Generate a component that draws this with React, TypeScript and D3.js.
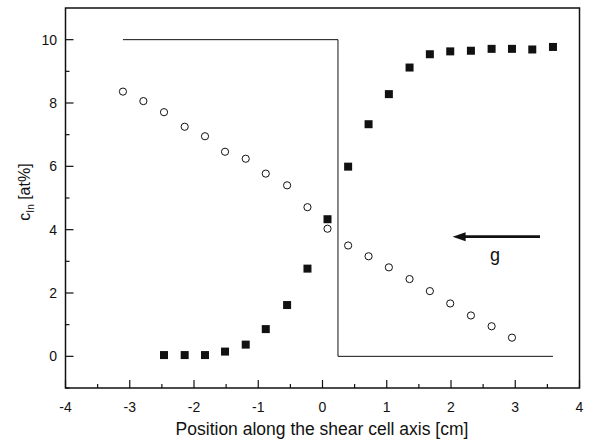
import React from "react";
import * as d3 from "d3";

const gridX = [-3.106, -2.788, -2.467, -2.145, -1.829, -1.517, -1.195, -0.883, -0.551, -0.234, 0.078, 0.399, 0.717, 1.033, 1.355, 1.671, 1.988, 2.31, 2.632, 2.949, 3.265, 3.587];
const circleX = gridX.slice(0, 20);
const circleY = [8.36, 8.06, 7.71, 7.25, 6.95, 6.46, 6.24, 5.77, 5.4, 4.71, 4.03, 3.5, 3.16, 2.81, 2.44, 2.06, 1.67, 1.29, 0.95, 0.59];
const squareX = gridX.slice(2, 22);
const squareY = [0.04, 0.04, 0.04, 0.15, 0.37, 0.86, 1.62, 2.77, 4.33, 5.99, 7.33, 8.28, 9.12, 9.54, 9.63, 9.65, 9.71, 9.71, 9.69, 9.77];
const stepX = [-3.106, 0.241, 0.241, 3.587];
const stepY = [10, 10, 0, 0];
const xTicks = [-4, -3, -2, -1, 0, 1, 2, 3, 4];
const yTicks = [0, 2, 4, 6, 8, 10];
const arrowX = [3.385, 2.025];
const arrowY = 3.78;

const W = 614, H = 441;
const L = 65.5, R = 579.5, T = 8, B = 388;

export default function App() {
  const x = d3.scaleLinear().domain([-4, 4]).range([L, R]);
  const y = d3.scaleLinear().domain([-1, 11]).range([B, T]);
  const xMinor = d3.range(-3.5, 4, 1);
  const yMinor = d3.range(-1, 11, 2);
  const line = d3.line<[number, number]>().x(d => x(d[0])).y(d => y(d[1]));
  const stepPts: [number, number][] = stepX.map((v, i) => [v, stepY[i]]);
  const font = "'Liberation Sans', Arial, sans-serif";
  return (
    <svg width={W} height={H} style={{ position: "absolute", left: 0, top: 0, background: "#fff" }} fontFamily={font}>
      <rect x={0} y={0} width={W} height={H} fill="#fff" />
      <path d={line(stepPts) || ""} fill="none" stroke="#111" strokeWidth={1} />
      {circleX.map((v, i) => (
        <circle key={"c" + i} cx={x(v)} cy={y(circleY[i])} r={3.6} fill="#fff" stroke="#111" strokeWidth={1} />
      ))}
      {squareX.map((v, i) => (
        <rect key={"s" + i} x={x(v) - 4} y={y(squareY[i]) - 4} width={8} height={8} fill="#111" />
      ))}
      <line x1={x(arrowX[0])} y1={y(arrowY)} x2={x(arrowX[1]) + 10} y2={y(arrowY)} stroke="#111" strokeWidth={2.6} />
      <path d={`M${x(arrowX[1])},${y(arrowY)} L${x(arrowX[1]) + 13},${y(arrowY) - 4.5} L${x(arrowX[1]) + 13},${y(arrowY) + 4.5} Z`} fill="#111" />
      <text x={495} y={261} fontSize={18} textAnchor="middle" fill="#111">g</text>
      <rect x={L} y={T} width={R - L} height={B - T} fill="none" stroke="#111" strokeWidth={1.5} />
      {xTicks.map(t => (
        <g key={"xt" + t}>
          <line x1={x(t)} x2={x(t)} y1={B} y2={B - 8} stroke="#111" strokeWidth={1.2} />
          <text x={x(t)} y={412} fontSize={14} textAnchor="middle" fill="#111">{t < 0 ? "-" + Math.abs(t) : t}</text>
        </g>
      ))}
      {xMinor.map(t => (
        <line key={"xm" + t} x1={x(t)} x2={x(t)} y1={B} y2={B - 4} stroke="#111" strokeWidth={1.2} />
      ))}
      {yTicks.map(t => (
        <g key={"yt" + t}>
          <line x1={L} x2={L + 8} y1={y(t)} y2={y(t)} stroke="#111" strokeWidth={1.2} />
          <text x={57} y={y(t) + 5} fontSize={14} textAnchor="end" fill="#111">{t}</text>
        </g>
      ))}
      {yMinor.map(t => (
        <line key={"ym" + t} x1={L} x2={L + 4} y1={y(t)} y2={y(t)} stroke="#111" strokeWidth={1.2} />
      ))}
      <text x={322} y={435} fontSize={17.5} textAnchor="middle" fill="#111">Position along the shear cell axis [cm]</text>
      <text transform={`translate(30,${192}) rotate(-90)`} fontSize={16} textAnchor="middle" fill="#111">
        c<tspan fontSize={10} dy={4}>In</tspan><tspan dy={-4}> [at%]</tspan>
      </text>
    </svg>
  );
}
